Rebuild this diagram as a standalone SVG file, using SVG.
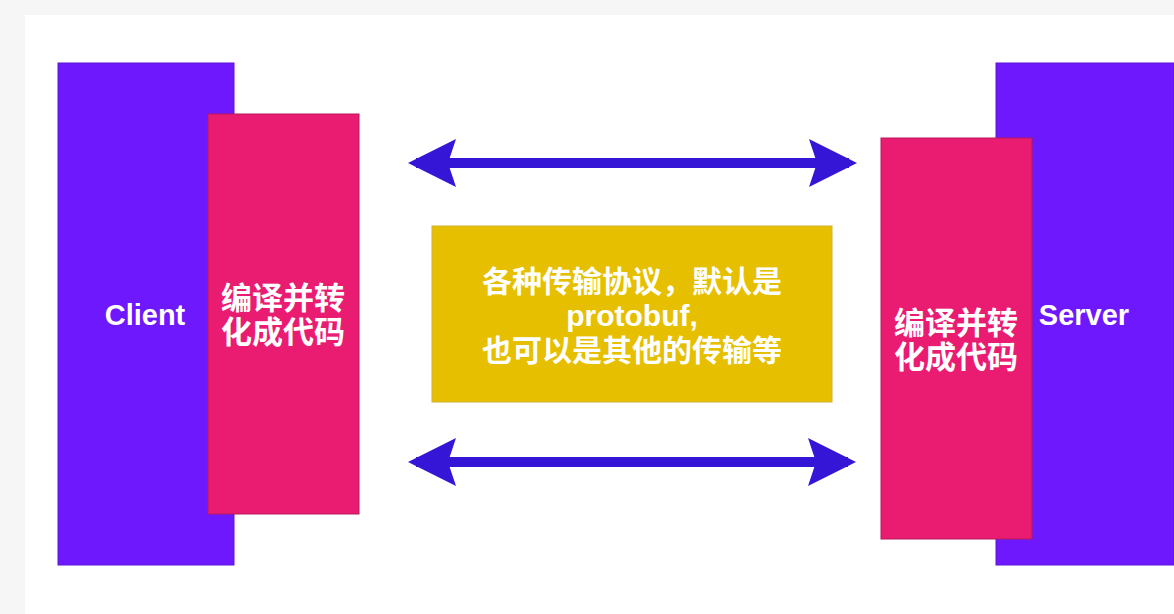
<svg xmlns="http://www.w3.org/2000/svg" width="1174" height="614" viewBox="0 0 1174 614">
<style>
.outer{fill:#6e18fd;stroke:#5a14d8;stroke-width:1}
.inner{fill:#e91c72;stroke:#b8185c;stroke-width:1}
.lbl{font-family:"Liberation Sans","Noto Sans CJK SC",sans-serif;font-weight:bold;fill:#ffffff}
.arrow{stroke:#3515d6;stroke-width:10;fill:none}
.head{fill:#3515d6}
</style>
<defs>
<marker id="ah" viewBox="0 0 48 48" refX="40" refY="24" markerWidth="48" markerHeight="48" markerUnits="userSpaceOnUse" orient="auto-start-reverse">
<path class="head" d="M0,0 L48,24 L0,48 L8,24 Z"/>
</marker>
</defs>
<rect x="0" y="0" width="1174" height="614" fill="#f6f6f6"/>
<rect x="25" y="15" width="1149" height="599" fill="#ffffff"/>
<g id="client">
<rect class="outer" x="58" y="63" width="176" height="502"/>
<text class="lbl" x="145" y="325" font-size="29" text-anchor="middle">Client</text>
</g>
<g id="client-compile">
<rect class="inner" x="208" y="114" width="151" height="400"/>
<text class="lbl" x="283" y="309" font-size="31" text-anchor="middle">编译并转</text>
<text class="lbl" x="283" y="343" font-size="31" text-anchor="middle">化成代码</text>
</g>
<g id="server">
<rect class="outer" x="996" y="63" width="178" height="502"/>
<text class="lbl" x="1084" y="325" font-size="29" text-anchor="middle">Server</text>
</g>
<g id="server-compile">
<rect class="inner" x="881" y="138" width="151" height="401"/>
<text class="lbl" x="956" y="334" font-size="31" text-anchor="middle">编译并转</text>
<text class="lbl" x="956" y="368" font-size="31" text-anchor="middle">化成代码</text>
</g>
<g id="protocol">
<rect x="432" y="226" width="400" height="176" fill="#e6c000" stroke="#d4b030" stroke-width="1"/>
<text class="lbl" x="632" y="292" font-size="30" text-anchor="middle">各种传输协议，默认是</text>
<text class="lbl" x="632" y="326" font-size="30" text-anchor="middle">protobuf,</text>
<text class="lbl" x="632" y="361" font-size="30" text-anchor="middle">也可以是其他的传输等</text>
</g>
<g id="connectors">
<line class="arrow" x1="416" y1="163" x2="849" y2="163" marker-start="url(#ah)" marker-end="url(#ah)"/>
<line class="arrow" x1="416" y1="462" x2="848" y2="462" marker-start="url(#ah)" marker-end="url(#ah)"/>
</g>
</svg>
